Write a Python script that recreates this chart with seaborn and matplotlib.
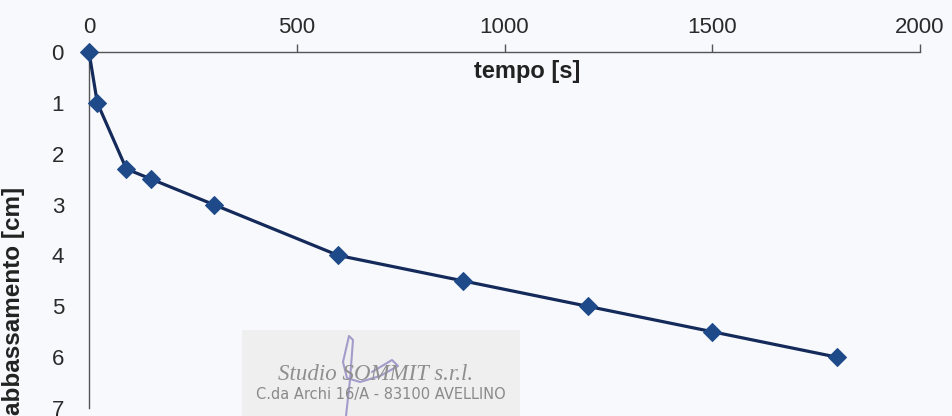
import matplotlib
matplotlib.use("Agg")
import matplotlib.pyplot as plt
from matplotlib.patches import Rectangle
import seaborn as sns
import pandas as pd

# Falling-head test readings
tempo_s = [0, 20, 90, 150, 300, 600, 900, 1200, 1500, 1800]
abbassamento_cm = [0, 1, 2.3, 2.5, 3, 4, 4.5, 5, 5.5, 6]
x_ticks = [0, 500, 1000, 1500, 2000]
y_ticks = [0, 1, 2, 3, 4, 5, 6, 7]

df = pd.DataFrame({"tempo": tempo_s, "abbassamento": abbassamento_cm})

sns.set_theme(style="white")
plt.rcParams["font.family"] = ["Liberation Sans", "DejaVu Sans"]

bg = "#f7f9fc"
fig = plt.figure(figsize=(9.52, 4.16), dpi=100, facecolor=bg)
ax = fig.add_axes([89 / 952, 1 - 408 / 416, (920 - 89) / 952, (408 - 52) / 416])
ax.set_facecolor(bg)

sns.lineplot(data=df, x="tempo", y="abbassamento", ax=ax, color="#142a5a",
             linewidth=2.3, marker="D", markersize=9,
             markerfacecolor="#1f4a8a", markeredgecolor="#1f4a8a",
             clip_on=False, zorder=5)

ax.set_xlim(0, 2000)
ax.set_ylim(7, 0)
ax.set_xticks(x_ticks)
ax.set_yticks(y_ticks)
ax.xaxis.tick_top()

for side in ("right", "bottom"):
    ax.spines[side].set_visible(False)
for side in ("left", "top"):
    ax.spines[side].set_color("#555555")
    ax.spines[side].set_linewidth(1.0)

ax.tick_params(axis="x", which="major", direction="out", length=6, width=1,
               color="#555555", labelsize=16, labelcolor="#2a2a2a", pad=4)
ax.tick_params(axis="y", which="major", direction="out", length=6, width=1,
               color="#555555", labelsize=16, labelcolor="#2a2a2a", pad=12)

ax.set_xlabel("")
ax.set_ylabel("abbassamento [cm]", fontsize=17.5, fontweight="bold", color="#222222")
ax.yaxis.set_label_coords(-0.077, 0.30)

ax.text(0.527, 0.944, "tempo [s]", transform=ax.transAxes, ha="center", va="center",
        fontsize=17, fontweight="bold", color="#222222")

# Company stamp at the bottom of the sheet
fig.patches.append(Rectangle((242 / 952, 0), (520 - 242) / 952, (416 - 330) / 416,
                             transform=fig.transFigure, facecolor="#efefef",
                             edgecolor="none", zorder=0))
fig.text(376 / 952, 1 - 375 / 416, "Studio SOMMIT s.r.l.", ha="center", va="center",
         fontsize=16.5, fontstyle="italic", family="Liberation Serif", color="#8f8f8f")
fig.text(381 / 952, 1 - 395 / 416, "C.da Archi 16/A - 83100 AVELLINO", ha="center",
         va="center", fontsize=10.5, family="Liberation Sans Narrow", color="#8a8a8a")
sig_x = [346, 350, 353, 349, 343, 347, 360, 380, 398, 392, 372]
sig_y = [416, 380, 340, 336, 362, 378, 382, 376, 366, 360, 372]
fig.lines.append(plt.Line2D([v / 952 for v in sig_x], [1 - v / 416 for v in sig_y],
                            transform=fig.transFigure, color="#8c7fc0", linewidth=1.5,
                            alpha=0.75))

fig.savefig("out.png", dpi=100, facecolor=bg)
